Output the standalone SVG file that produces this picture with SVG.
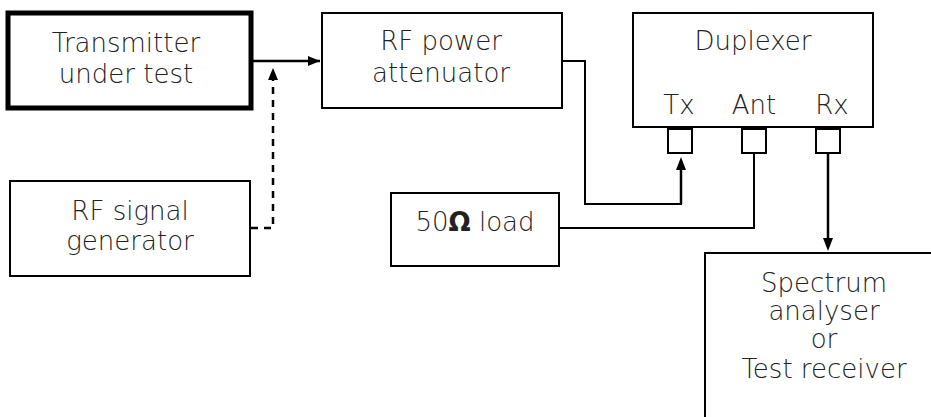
<svg xmlns="http://www.w3.org/2000/svg" width="931" height="417" viewBox="0 0 931 417">
<style>
.box{fill:#fff;stroke:#000;stroke-width:2}
.thick{fill:#fff;stroke:#000;stroke-width:5}
.port{fill:#fff;stroke:#000;stroke-width:2}
.t{font-family:"DejaVu Sans","Liberation Sans",sans-serif;font-size:26px;font-weight:200;fill:#222;text-anchor:middle}
.c{fill:none;stroke:#000;stroke-width:2}
.c3{fill:none;stroke:#000;stroke-width:2.5}
.d{fill:none;stroke:#000;stroke-width:2.5;stroke-dasharray:7 6}
</style>
<defs>
<marker id="ahs" markerWidth="12" markerHeight="10" refX="12" refY="5" orient="auto" markerUnits="userSpaceOnUse">
<path d="M0,0 L12,5 L0,10 z" fill="#000"/>
</marker>
</defs>
<rect x="0" y="0" width="931" height="417" fill="#fff"/>
<g id="connectors">
<line class="c3" x1="252" y1="61" x2="320" y2="61" marker-end="url(#ahs)"/>
<path class="d" d="M251,228 H273 V70"/>
<path d="M268,80 L273,68 L278,80 z" fill="#000"/>
<path class="c" d="M562,61 H585 V204 H681 V160"/>
<path d="M676,170 L681,157 L686,170 z" fill="#000"/>
<path class="c3" d="M681,204 V168"/>
<path class="c" d="M754,153 V228 H560"/>
<line class="c3" x1="828" y1="153" x2="828" y2="240"/>
<path d="M823,238 L828,251 L833,238 z" fill="#000"/>
</g>
<g id="transmitter">
<rect class="thick" x="8" y="13" width="243" height="95"/>
<text class="t" x="126" y="52">Transmitter</text>
<text class="t" x="126" y="83">under test</text>
</g>
<g id="generator">
<rect class="box" x="10" y="181" width="240" height="95"/>
<text class="t" x="130" y="220">RF signal</text>
<text class="t" x="130" y="250">generator</text>
</g>
<g id="attenuator">
<rect class="box" x="322" y="13" width="240" height="95"/>
<text class="t" x="441" y="50">RF power</text>
<text class="t" x="441" y="82">attenuator</text>
</g>
<g id="duplexer">
<rect class="box" x="633" y="13" width="240" height="114"/>
<text class="t" x="753" y="50">Duplexer</text>
<text class="t" x="679" y="114">Tx</text>
<text class="t" x="754" y="114">Ant</text>
<text class="t" x="832" y="114">Rx</text>
<rect class="port" x="668" y="129" width="24" height="24"/>
<rect class="port" x="742" y="129" width="24" height="24"/>
<rect class="port" x="816" y="129" width="24" height="24"/>
</g>
<g id="load">
<rect class="box" x="391" y="193" width="168" height="73"/>
<text class="t" x="475" y="231">50<tspan font-weight="600">Ω</tspan> load</text>
</g>
<g id="analyser">
<rect class="box" x="705" y="253" width="240" height="180"/>
<text class="t" x="824" y="292">Spectrum</text>
<text class="t" x="824" y="320">analyser</text>
<text class="t" x="824" y="348">or</text>
<text class="t" x="824" y="378">Test receiver</text>
</g>
</svg>
